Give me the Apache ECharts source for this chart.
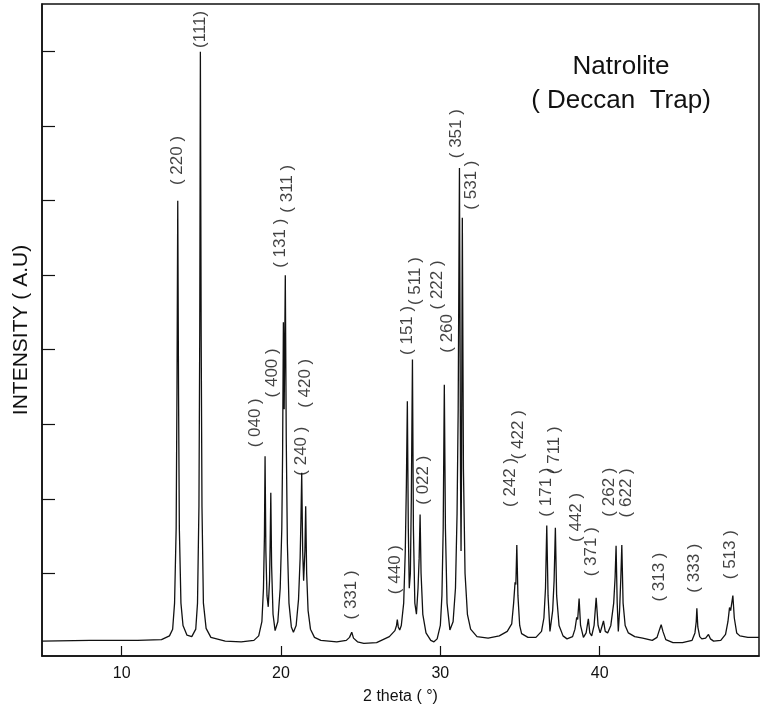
<!DOCTYPE html>
<html>
<head>
<meta charset="utf-8">
<title>Natrolite XRD</title>
<script src="https://cdn.jsdelivr.net/npm/echarts@6/dist/echarts.min.js"></script>
<style>
  html, body { margin: 0; padding: 0; background: #fff; }
  #chart { width: 767px; height: 710px; }
</style>
</head>
<body>
<div id="chart"></div>
<script>
// diffraction trace: [2 theta, intensity (a.u., 1 unit = one y tick)]
const trace = [
  [5, 0.09], [8, 0.1], [11, 0.1], [12.5, 0.11], [13.0, 0.16], [13.2, 0.25], [13.32, 0.6], [13.42, 1.6],
  [13.47, 3.4], [13.52, 6.0], [13.57, 3.4], [13.62, 1.6], [13.72, 0.6], [13.85, 0.3], [14.1, 0.17],
  [14.4, 0.15], [14.65, 0.25], [14.76, 0.6], [14.85, 1.9], [14.9, 4.2], [14.94, 8.0], [14.99, 4.2],
  [15.04, 1.9], [15.13, 0.6], [15.3, 0.26], [15.6, 0.14], [16.5, 0.09], [17.5, 0.08], [18.3, 0.1],
  [18.6, 0.16], [18.8, 0.35], [18.9, 0.8], [18.96, 1.5], [19.0, 2.57], [19.05, 1.3], [19.12, 0.7],
  [19.2, 0.55], [19.28, 0.9], [19.32, 1.4], [19.36, 2.08], [19.41, 1.1], [19.5, 0.45], [19.63, 0.23],
  [19.8, 0.35], [19.95, 0.8], [20.05, 1.6], [20.1, 2.6], [20.15, 4.37], [20.2, 3.2], [20.27, 5.0],
  [20.33, 2.8], [20.4, 1.4], [20.5, 0.6], [20.65, 0.28], [20.78, 0.21], [20.95, 0.3], [21.1, 0.65],
  [21.2, 1.2], [21.25, 1.7], [21.3, 2.35], [21.36, 1.3], [21.42, 0.9], [21.5, 1.3], [21.55, 1.9],
  [21.61, 1.0], [21.7, 0.5], [21.85, 0.25], [22.1, 0.14], [22.5, 0.1], [23.5, 0.08], [24.1, 0.1],
  [24.3, 0.14], [24.44, 0.21], [24.55, 0.13], [24.8, 0.08], [25.2, 0.06], [26.0, 0.07], [26.8, 0.15],
  [27.15, 0.23], [27.25, 0.3], [27.3, 0.38], [27.36, 0.28], [27.45, 0.24], [27.55, 0.3], [27.7, 0.6],
  [27.8, 1.3], [27.87, 2.2], [27.93, 3.31], [27.99, 1.6], [28.05, 0.8], [28.12, 1.0], [28.18, 2.0],
  [28.25, 3.87], [28.31, 1.6], [28.4, 0.6], [28.5, 0.45], [28.6, 0.8], [28.67, 1.2], [28.73, 1.79],
  [28.79, 1.0], [28.9, 0.45], [29.1, 0.2], [29.4, 0.1], [29.6, 0.08], [29.8, 0.12], [30.0, 0.3],
  [30.1, 0.7], [30.18, 1.6], [30.25, 3.53], [30.32, 1.6], [30.42, 0.6], [30.6, 0.24], [30.8, 0.35],
  [30.95, 0.8], [31.05, 1.8], [31.12, 3.2], [31.2, 6.44], [31.27, 2.2], [31.3, 1.3], [31.33, 2.4],
  [31.38, 5.77], [31.45, 2.4], [31.55, 1.0], [31.7, 0.45], [31.9, 0.25], [32.3, 0.15], [33.0, 0.13],
  [33.7, 0.16], [34.2, 0.22], [34.48, 0.32], [34.6, 0.6], [34.69, 0.88], [34.74, 0.85], [34.8, 1.38],
  [34.87, 0.7], [34.98, 0.3], [35.1, 0.19], [35.5, 0.14], [36.0, 0.14], [36.35, 0.22], [36.5, 0.4],
  [36.6, 0.8], [36.68, 1.64], [36.76, 0.7], [36.88, 0.22], [36.95, 0.2], [37.05, 0.5], [37.14, 0.9],
  [37.22, 1.61], [37.3, 0.7], [37.45, 0.3], [37.7, 0.16], [37.95, 0.12], [38.3, 0.15], [38.45, 0.25],
  [38.56, 0.41], [38.62, 0.38], [38.71, 0.66], [38.8, 0.3], [38.98, 0.14], [39.15, 0.2], [39.29, 0.39],
  [39.38, 0.2], [39.5, 0.16], [39.65, 0.3], [39.78, 0.67], [39.9, 0.3], [40.03, 0.2], [40.24, 0.36],
  [40.35, 0.22], [40.5, 0.2], [40.7, 0.3], [40.88, 0.6], [40.97, 0.95], [41.03, 1.37], [41.1, 0.6],
  [41.17, 0.22], [41.25, 0.5], [41.33, 0.95], [41.39, 1.38], [41.47, 0.6], [41.6, 0.3], [41.8, 0.2],
  [42.2, 0.15], [42.7, 0.13], [43.3, 0.1], [43.6, 0.14], [43.75, 0.24], [43.86, 0.31], [43.97, 0.22],
  [44.15, 0.11], [44.6, 0.07], [45.2, 0.07], [45.8, 0.1], [45.98, 0.2], [46.06, 0.35], [46.1, 0.53],
  [46.16, 0.28], [46.28, 0.15], [46.41, 0.12], [46.65, 0.13], [46.83, 0.18], [46.95, 0.12], [47.15, 0.09],
  [47.6, 0.1], [47.9, 0.18], [48.05, 0.35], [48.15, 0.54], [48.22, 0.5], [48.36, 0.7], [48.45, 0.4],
  [48.6, 0.2], [48.8, 0.16], [49.3, 0.14], [50, 0.14]
]

// Miller index labels, and where the foot of each (vertical) label sits
const peakLabels = ['( 220 )', '(111)', '( 040 )', '( 400 )', '( 131 )', '( 311 )', '( 240 )', '( 420 )',
  '( 331 )', '( 440 )', '( 151 )', '( 511 )', '( 022 )', '( 222 )', '( 260', '( 351 )', '( 531 )',
  '( 242 )', '( 422 )', '( 171 )', '( 711 )', '( 442 )', '( 371 )', '( 262 )', '( 622 )',
  '( 313 )', '( 333 )', '( 513 )']
const labelTheta = [13.51, 14.92, 18.37, 19.44, 19.94, 20.38, 21.26, 21.51,
  24.40, 27.16, 27.91, 28.41, 28.92, 29.80, 30.42, 30.99, 31.93,
  34.38, 34.88, 36.64, 37.14, 38.52, 39.46, 40.59, 41.66,
  43.73, 45.93, 48.19]
const labelHeight = [6.21, 8.05, 2.69, 3.36, 5.10, 5.84, 2.31, 3.22,
  0.38, 0.72, 3.93, 4.60, 1.92, 4.54, 3.96, 6.57, 5.88,
  1.89, 2.53, 1.76, 2.33, 1.42, 0.96, 1.76, 1.75,
  0.62, 0.74, 0.92]

const xTicks = [10, 20, 30, 40]
const yTicks = [1, 2, 3, 4, 5, 6, 7, 8]

const font = 'Liberation Sans, Arial, sans-serif'
const chart = echarts.init(document.getElementById('chart'))

chart.setOption({
  animation: false,
  backgroundColor: '#fff',
  grid: {
    left: 42,
    right: 8,
    top: 4,
    bottom: 53,
    show: true,
    borderColor: '#111',
    borderWidth: 1.5
  },
  graphic: [{
    type: 'text',
    x: 621,
    y: 50,
    style: {
      text: 'Natrolite\n( Deccan  Trap)',
      textAlign: 'center',
      textVerticalAlign: 'top',
      fontFamily: font,
      fontSize: 26,
      lineHeight: 34,
      fill: '#111'
    }
  }],
  xAxis: {
    type: 'value',
    min: 5,
    max: 50,
    name: '2 theta ( °)',
    nameLocation: 'middle',
    nameGap: 33,
    nameTextStyle: { fontFamily: font, fontSize: 16, color: '#111' },
    axisLine: { show: true, onZero: false, lineStyle: { color: '#111', width: 1.5 } },
    axisTick: { show: true, inside: true, length: 10, customValues: xTicks, lineStyle: { color: '#111', width: 1.2 } },
    axisLabel: { customValues: xTicks, margin: 10, fontFamily: font, fontSize: 16, color: '#111' },
    splitLine: { show: false }
  },
  yAxis: {
    type: 'value',
    min: -0.11,
    max: 8.64,
    name: 'INTENSITY ( A.U)',
    nameLocation: 'middle',
    nameGap: 10,
    nameTextStyle: { fontFamily: font, fontSize: 21, color: '#111' },
    axisLine: { show: true, onZero: false, lineStyle: { color: '#111', width: 1.5 } },
    axisTick: { show: true, inside: true, length: 13, customValues: yTicks, lineStyle: { color: '#111', width: 1.2 } },
    axisLabel: { show: false },
    splitLine: { show: false }
  },
  series: [{
    type: 'line',
    data: trace,
    showSymbol: false,
    smooth: false,
    lineStyle: { color: '#111', width: 1.3 }
  }, {
    type: 'scatter',
    silent: true,
    symbolSize: 0,
    data: labelTheta.map((t, i) => [t, labelHeight[i]]),
    label: {
      show: true,
      position: [0, 0],
      rotate: 90,
      align: 'left',
      verticalAlign: 'middle',
      fontFamily: font,
      fontSize: 17,
      color: '#111',
      formatter: p => peakLabels[p.dataIndex]
    }
  }]
})
</script>
</body>
</html>
